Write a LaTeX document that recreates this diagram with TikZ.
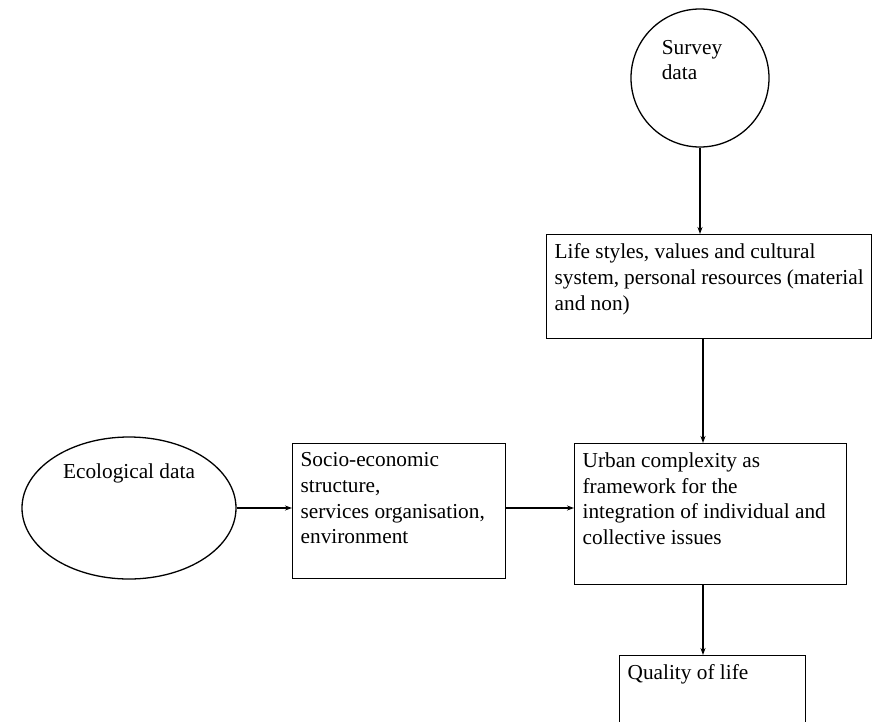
\documentclass[tikz,border=0pt]{standalone}
\usepackage{fontspec}
\setmainfont{Liberation Serif}
\usetikzlibrary{shapes.geometric}
\usetikzlibrary{arrows.meta}
\newcommand{\boxtext}[3]{\parbox[t][#2][t]{#1}{\raggedright #3}}

\begin{document}
\begin{tikzpicture}[x=1pt, y=-1pt, line width=1.3pt,
		every node/.style={font=\fontsize{21.3}{25.7}\selectfont},
		databox/.style={draw, rectangle, anchor=north west, inner xsep=8pt, inner ysep=9pt},
		arr/.style={-{Stealth[length=7pt,width=5pt]}}]
		\useasboundingbox (0,0) rectangle (873,721);
		
		\draw (700,78) node[circle, draw, minimum size=138pt, inner sep=0pt] (survey) {};
		\node[align=left] (surveylabel) at (692,60) {Survey\\data};
		\draw (129,508) node[ellipse, draw, minimum width=214pt, minimum height=142pt, inner sep=0pt] (eco) {};
		\node (ecolabel) at ([yshift=35pt]eco.center) {Ecological data};
		
		\draw (546,234) node[databox] (life) {\boxtext{309pt}{86pt}{Life styles, values and cultural\\system, personal resources (material\\and non)}};
		\draw (292,443) node[databox] (socio) {\boxtext{197pt}{117pt}{Socio-economic\\structure,\\services organisation,\\environment}};
		\draw (574,443) node[databox] (urban) {\boxtext{256pt}{123pt}{Urban complexity as\\framework for the\\integration of individual and\\collective issues}};
		\draw (619,655) node[databox] (quality) {\boxtext{170pt}{72pt}{Quality of life}};
		
		\coordinate (spine) at (703,0);
		\draw[arr] (survey.south) -- (survey.south |- life.north);
		\draw[arr] (life.south -| spine) -- (urban.north -| spine);
		\draw[arr] (urban.south -| spine) -- (quality.north -| spine);
		\draw[arr] (eco.east) -- (socio.west |- eco.east);
		\draw[arr] (socio.east |- eco.east) -- (urban.west |- eco.east);
	\end{tikzpicture}
\end{document}
